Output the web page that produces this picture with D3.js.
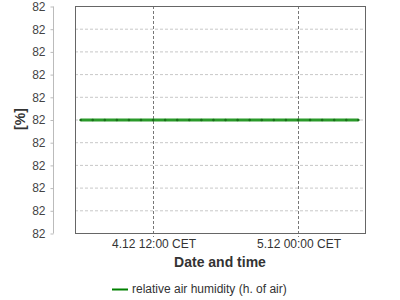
<!DOCTYPE html>
<html>
<head>
<meta charset="utf-8">
<script src="https://cdn.jsdelivr.net/npm/d3@7"></script>
<style>
  body { margin: 0; background: #fff; }
  text { font-family: "Liberation Sans", Arial, sans-serif; }
</style>
</head>
<body>
<div id="chart"></div>
<script>
// Hourly readings, 4.12 06:00 to 5.12 05:00 CET
var startTime = new Date(2023, 11, 4, 6, 0);
var humidity = [82, 82, 82, 82, 82, 82, 82, 82, 82, 82, 82, 82,
                82, 82, 82, 82, 82, 82, 82, 82, 82, 82, 82, 82];
var xTickTimes = [new Date(2023, 11, 4, 12, 0), new Date(2023, 11, 5, 0, 0)];
var xTickLabels = ["4.12 12:00 CET", "5.12 00:00 CET"];
var yTicks = [81.75, 81.8, 81.85, 81.9, 81.95, 82, 82.05, 82.1, 82.15, 82.2, 82.25];
var seriesName = "relative air humidity (h. of air)";

var data = humidity.map(function(v, i) {
  return { time: new Date(startTime.getTime() + i * 3600000), value: v };
});

var svgWidth = 400;
var svgHeight = 300;

var plot = { left: 75, right: 365, top: 6, bottom: 233 };

var svg = d3.select("#chart")
  .append("svg")
  .attr("width", svgWidth)
  .attr("height", svgHeight);

// x domain padded a bit beyond first and last point
var xScale = d3.scaleTime()
  .domain([new Date(2023, 11, 4, 5, 32), new Date(2023, 11, 5, 5, 33)])
  .range([plot.left, plot.right]);

var yScale = d3.scaleLinear()
  .domain([81.75, 82.25])
  .range([plot.bottom, plot.top]);

// horizontal grid
svg.append("g")
  .selectAll("line")
  .data(yTicks)
  .enter()
  .append("line")
  .attr("x1", plot.left)
  .attr("x2", plot.right)
  .attr("y1", d => yScale(d) + 0.5)
  .attr("y2", d => yScale(d) + 0.5)
  .attr("stroke", "#c8c8c8")
  .attr("stroke-dasharray", "3,2");

// vertical grid
svg.append("g")
  .selectAll("line")
  .data(xTickTimes)
  .enter()
  .append("line")
  .attr("x1", d => Math.round(xScale(d)) + 0.5)
  .attr("x2", d => Math.round(xScale(d)) + 0.5)
  .attr("y1", plot.top)
  .attr("y2", plot.bottom + 4)
  .attr("stroke", "#777")
  .attr("stroke-dasharray", "3,2");

// plot frame
svg.append("rect")
  .attr("x", plot.left + 0.5)
  .attr("y", plot.top + 0.5)
  .attr("width", plot.right - plot.left)
  .attr("height", plot.bottom - plot.top)
  .attr("fill", "none")
  .attr("stroke", "#666");

// y axis, offset to the left of the frame
var leftAxis = d3.axisLeft(yScale)
  .tickValues(yTicks)
  .tickFormat(d3.format(".0f"))
  .tickSize(3)
  .tickPadding(5);

var yAxisG = svg.append("g")
  .attr("transform", "translate(53.5,0.5)")
  .call(leftAxis);
yAxisG.select(".domain").attr("stroke", "#bbb").attr("d", `M0,${plot.top}V${plot.bottom}`);
yAxisG.selectAll(".tick line").attr("stroke", "#bbb");
yAxisG.selectAll(".tick text")
  .attr("fill", "#444")
  .style("font-size", "12px")
  .style("font-family", "'Liberation Sans', Arial, sans-serif");

// x axis labels
var bottomAxis = d3.axisBottom(xScale)
  .tickValues(xTickTimes)
  .tickFormat((d, i) => xTickLabels[i])
  .tickSize(0)
  .tickPadding(6);

var xAxisG = svg.append("g")
  .attr("transform", `translate(0.5,${plot.bottom})`)
  .call(bottomAxis);
xAxisG.select(".domain").remove();
xAxisG.selectAll(".tick text")
  .attr("fill", "#333")
  .style("font-size", "12px")
  .style("font-family", "'Liberation Sans', Arial, sans-serif");

// axis titles
svg.append("text")
  .attr("transform", "rotate(-90)")
  .attr("x", -119)
  .attr("y", 25)
  .attr("text-anchor", "middle")
  .attr("font-weight", "bold")
  .attr("font-size", "14px")
  .attr("fill", "#333")
  .text("[%]");

svg.append("text")
  .attr("x", (plot.left + plot.right) / 2)
  .attr("y", 267)
  .attr("text-anchor", "middle")
  .attr("font-weight", "bold")
  .attr("font-size", "14px")
  .attr("fill", "#333")
  .text("Date and time");

// series line
var line = d3.line()
  .x(d => xScale(d.time))
  .y(d => yScale(d.value) + 0.5);

svg.append("path")
  .datum(data)
  .attr("d", line)
  .attr("fill", "none")
  .attr("stroke", "#2a9a2a")
  .attr("stroke-width", 3);

svg.append("g")
  .selectAll("circle")
  .data(data)
  .enter()
  .append("circle")
  .attr("cx", d => xScale(d.time))
  .attr("cy", d => yScale(d.value) + 0.5)
  .attr("r", 1.3)
  .attr("fill", "#1a6e1a");

// legend
svg.append("line")
  .attr("x1", 112)
  .attr("x2", 128)
  .attr("y1", 289.5)
  .attr("y2", 289.5)
  .attr("stroke", "#008000")
  .attr("stroke-width", 2);

svg.append("text")
  .attr("x", 132)
  .attr("y", 293)
  .attr("font-size", "12px")
  .attr("fill", "#333")
  .text(seriesName);
</script>
</body>
</html>
